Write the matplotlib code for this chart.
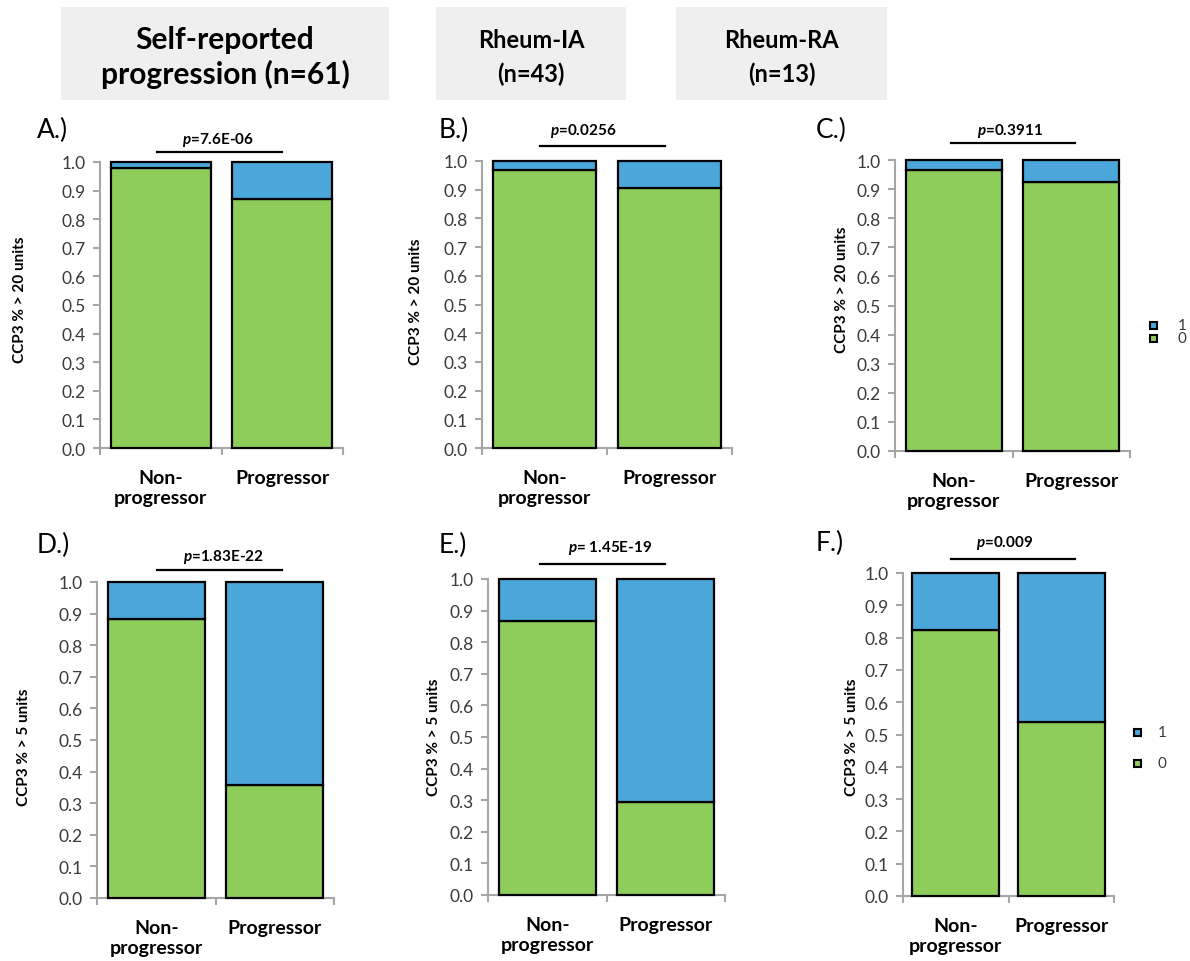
import matplotlib
matplotlib.use("Agg")
import matplotlib.pyplot as plt
from matplotlib.lines import Line2D
from matplotlib.patches import Rectangle

plt.rcParams['font.family'] = ['Lato', 'DejaVu Sans']
plt.rcParams['mathtext.fontset'] = 'custom'
plt.rcParams['mathtext.it'] = 'Lato:italic:bold'
plt.rcParams['mathtext.rm'] = 'Lato:bold'

# ---------------- data ----------------
groups = ["Non-\nprogressor", "Progressor"]
headers = ["Self-reported\nprogression (n=61)", "Rheum-IA\n(n=43)", "Rheum-RA\n(n=13)"]
panel_letters = ["A.)", "B.)", "C.)", "D.)", "E.)", "F.)"]
ylabels = ["CCP3 % > 20 units", "CCP3 % > 20 units", "CCP3 % > 20 units",
           "CCP3 % > 5 units", "CCP3 % > 5 units", "CCP3 % > 5 units"]
pvalues = ["=7.6E-06", "=0.0256", "=0.3911", "=1.83E-22", "= 1.45E-19", "=0.009"]
share_0_A = [0.980, 0.870]
share_1_A = [0.020, 0.130]
share_0_B = [0.970, 0.905]
share_1_B = [0.030, 0.095]
share_0_C = [0.967, 0.923]
share_1_C = [0.033, 0.077]
share_0_D = [0.882, 0.357]
share_1_D = [0.118, 0.643]
share_0_E = [0.866, 0.293]
share_1_E = [0.134, 0.707]
share_0_F = [0.823, 0.538]
share_1_F = [0.177, 0.462]
series_labels = ["1", "0"]
yticks = [0.0, 0.1, 0.2, 0.3, 0.4, 0.5, 0.6, 0.7, 0.8, 0.9, 1.0]

share0 = [share_0_A, share_0_B, share_0_C, share_0_D, share_0_E, share_0_F]
share1 = [share_1_A, share_1_B, share_1_C, share_1_D, share_1_E, share_1_F]

# ---------------- style / layout ----------------
W, H = 1190, 962
GREEN = "#8fcd5b"
BLUE = "#4ba6d9"
AXGRAY = "#a6a6a6"
TXT = "#3a3a3a"

fig = plt.figure(figsize=(W / 100, H / 100), dpi=100)
fig.patch.set_facecolor("white")

def fx(x):
    return x / W

def fy(y):
    return 1 - y / H

# axes pixel boxes: left, right, top(y=1), bottom(y=0)
boxes = [(100, 343, 163, 449), (482, 732, 162, 449), (895, 1130, 161, 452),
         (97, 334, 583, 899), (488, 725, 580, 896), (903, 1114, 574, 897)]
ylabel_pos = [(20, 300), (416, 302), (842, 290), (24, 747), (434, 737), (852, 737)]
letter_pos = [(37, 130), (439, 130), (816, 130), (37, 545), (439, 545), (816, 543)]
# p text center (x, y), line y, line x0, x1
pinfo = [(218, 140, 153, 157, 282), (583, 131, 147, 540, 665), (1010, 131, 144, 951, 1075),
         (223, 557, 571, 157, 282), (610, 548, 565, 540, 665), (1005, 543, 560, 951, 1075)]
# legend: square x, text x, y of "1", y of "0"
legend_pos = {2: (1153, 1182, 326, 339), 5: (1137, 1162, 733, 764)}

# header boxes
hboxes = [(61, 389, 8, 101), (436, 626, 8, 101), (676, 887, 8, 101)]
hsizes = [21.5, 17, 17]
for (x0, x1, y0, y1), txt, fs in zip(hboxes, headers, hsizes):
    fig.patches.append(Rectangle((fx(x0), fy(y1)), fx(x1 - x0), (y1 - y0) / H,
                                 transform=fig.transFigure, facecolor="#efefef",
                                 edgecolor="none", zorder=0))
    fig.text(fx((x0 + x1) / 2), fy((y0 + y1) / 2 + 3), txt, ha="center", va="center",
             fontsize=fs, fontweight="bold", color="black",
             linespacing=1.27 if fs > 20 else 1.55)

x = [0, 1]
for i in range(6):
    l, r, t, b = boxes[i]
    ax = fig.add_axes([fx(l), fy(b), fx(r - l), (b - t) / H])
    ax.bar(x, share0[i], width=0.82, color=GREEN, edgecolor="black", linewidth=1.6,
           clip_on=False, zorder=3)
    ax.bar(x, share1[i], width=0.82, bottom=share0[i], color=BLUE, edgecolor="black",
           linewidth=1.6, clip_on=False, zorder=3)
    ax.set_xlim(-0.5, 1.5)
    ax.set_ylim(0, 1)
    for s in ["top", "right"]:
        ax.spines[s].set_visible(False)
    for s in ["left", "bottom"]:
        ax.spines[s].set_color(AXGRAY)
        ax.spines[s].set_linewidth(1.5)
    ax.set_yticks(yticks)
    ax.set_yticklabels([f"{v:.1f}" for v in yticks])
    ax.tick_params(axis="y", direction="out", length=5, width=1.5, color=AXGRAY,
                   labelsize=12.5, labelcolor=TXT, pad=5)
    ax.set_xticks(x)
    ax.set_xticklabels(groups, fontsize=14, fontweight="bold", color="black",
                       linespacing=1.2)
    ax.tick_params(axis="x", which="major", length=0, pad=15)
    ax.set_xticks([-0.5, 0.5, 1.5], minor=True)
    ax.tick_params(axis="x", which="minor", direction="out", length=5, width=1.5,
                   color=AXGRAY)
    for lab in ax.get_xticklabels():
        lab.set_verticalalignment("top")

    yx, yy = ylabel_pos[i]
    fig.text(fx(yx), fy(yy), ylabels[i], rotation=90, ha="center", va="center",
             fontsize=11, fontweight="bold", color="black")
    lx, ly = letter_pos[i]
    fig.text(fx(lx), fy(ly), panel_letters[i], ha="left", va="center", fontsize=19,
             color="black")
    px, py, ply, plx0, plx1 = pinfo[i]
    fig.text(fx(px), fy(py), r"$p$" + pvalues[i], ha="center", va="center",
             fontsize=11, fontweight="bold", color="black")
    fig.add_artist(Line2D([fx(plx0), fx(plx1)], [fy(ply), fy(ply)], color="black",
                          linewidth=1.6, transform=fig.transFigure))

    if i in legend_pos:
        sx, tx, y1, y0 = legend_pos[i]
        for lab, col, yy_ in zip(series_labels, (BLUE, GREEN), (y1, y0)):
            sz = 7
            fig.patches.append(Rectangle((fx(sx - sz / 2), fy(yy_ + sz / 2)), sz / W, sz / H,
                                         transform=fig.transFigure, facecolor=col,
                                         edgecolor="black", linewidth=1.5))
            fig.text(fx(tx), fy(yy_), lab, ha="center", va="center", fontsize=11,
                     color=TXT)

fig.savefig("out.png", dpi=100, facecolor="white")
